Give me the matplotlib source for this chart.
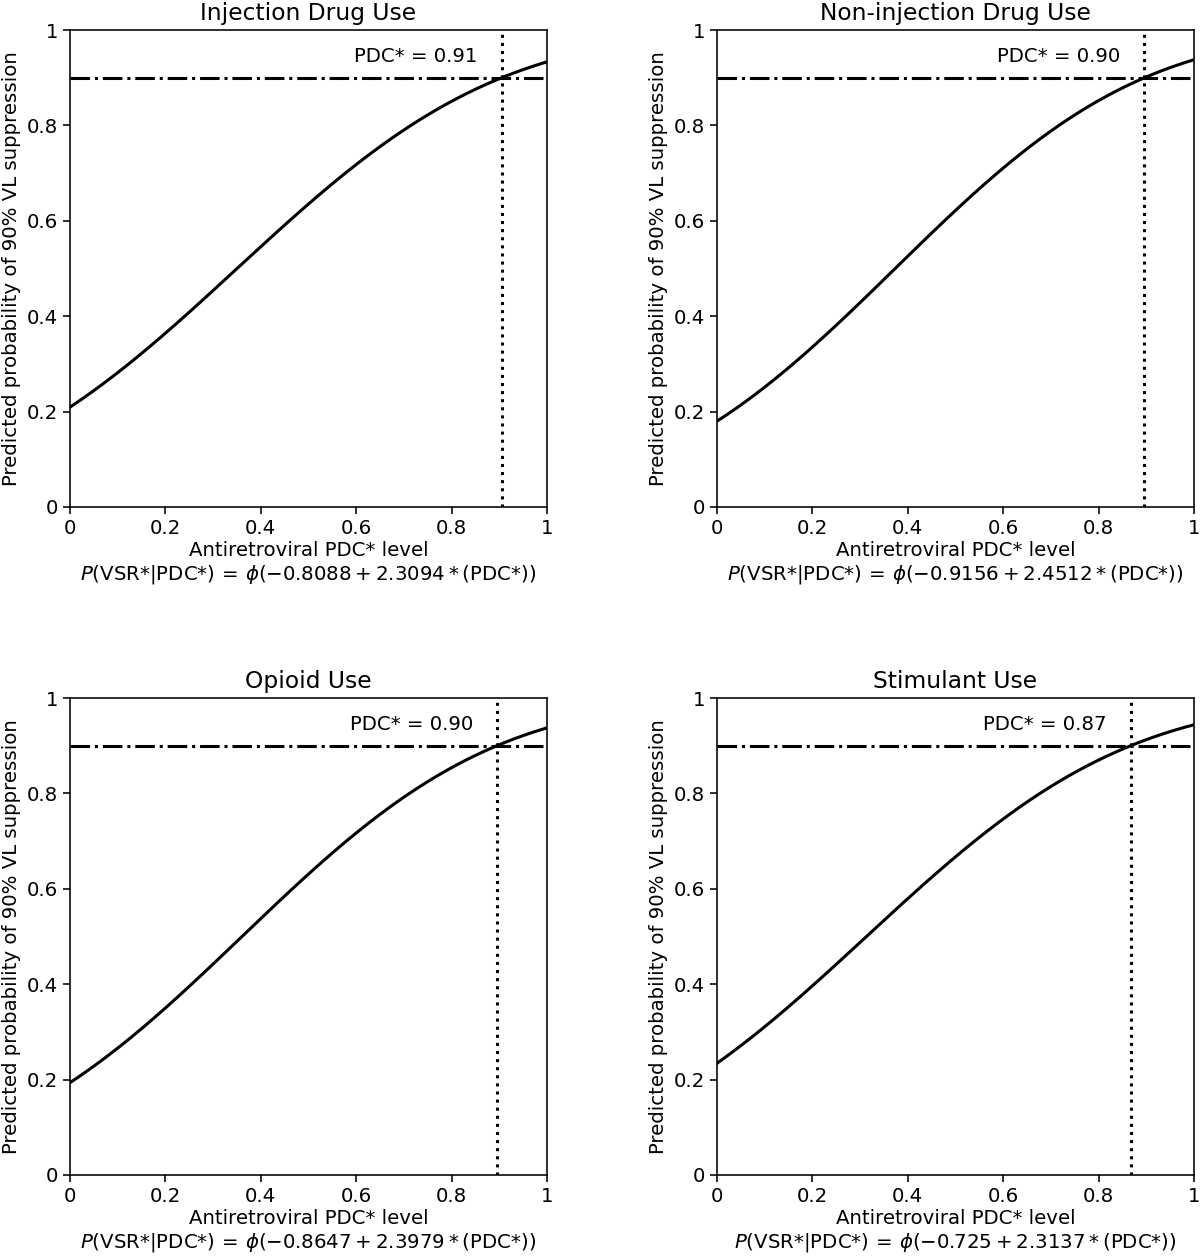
import math
import numpy as np
import matplotlib
matplotlib.use("Agg")
import matplotlib.pyplot as plt

titles = ["Injection Drug Use", "Non-injection Drug Use", "Opioid Use", "Stimulant Use"]
intercepts = [-0.8088, -0.9156, -0.8647, -0.725]
slopes = [2.3094, 2.4512, 2.3979, 2.3137]
coef_text = [("-0.8088", "2.3094"), ("-0.9156", "2.4512"),
             ("-0.8647", "2.3979"), ("-0.725", "2.3137")]
thresholds = [0.905, 0.896, 0.895, 0.867]
thr_labels = ["0.91", "0.90", "0.90", "0.87"]
target = 0.9
ticks = [0, 0.2, 0.4, 0.6, 0.8, 1]
tick_labels = ["0", "0.2", "0.4", "0.6", "0.8", "1"]

fs = 14.2
plt.rcParams["font.size"] = fs

fig = plt.figure(figsize=(12, 12.58), dpi=100)
W, H = 1200, 1258
boxes = [(70, 30), (717, 30), (70, 698), (717, 698)]
size = 477

def phi(z):
    return 0.5 * (1 + np.vectorize(math.erf)(z / math.sqrt(2)))

x = np.linspace(0, 1, 300)
for i in range(4):
    l, t = boxes[i]
    ax = fig.add_axes([l / W, 1 - (t + size) / H, size / W, size / H])
    y = phi(intercepts[i] + slopes[i] * x)
    ax.plot(x, y, color="black", lw=2.2)
    ax.axhline(target, color="black", lw=2.2, ls="-.")
    ax.axvline(thresholds[i], color="black", lw=2.2, ls=":")
    ax.text(thresholds[i] - 0.05, 0.945, "PDC* = " + thr_labels[i],
            ha="right", va="center", fontsize=fs)
    ax.set_xlim(0, 1)
    ax.set_ylim(0, 1)
    ax.set_xticks(ticks)
    ax.set_xticklabels(tick_labels)
    ax.set_yticks(ticks)
    ax.set_yticklabels(tick_labels)
    for s in ax.spines.values():
        s.set_linewidth(1.15)
    ax.tick_params(width=1.15, length=5)
    ax.set_title(titles[i], fontsize=16.8, pad=7)
    a, b = coef_text[i]
    ax.set_xlabel("Antiretroviral PDC* level\n"
                  r"$P$(VSR*|PDC*)$\,=\,\phi(" + a + "+" + b + r"*($PDC*$))$",
                  fontsize=fs, labelpad=2)
    ax.set_ylabel("Predicted probability of 90% VL suppression", fontsize=fs)

fig.savefig("out.png", dpi=100)
